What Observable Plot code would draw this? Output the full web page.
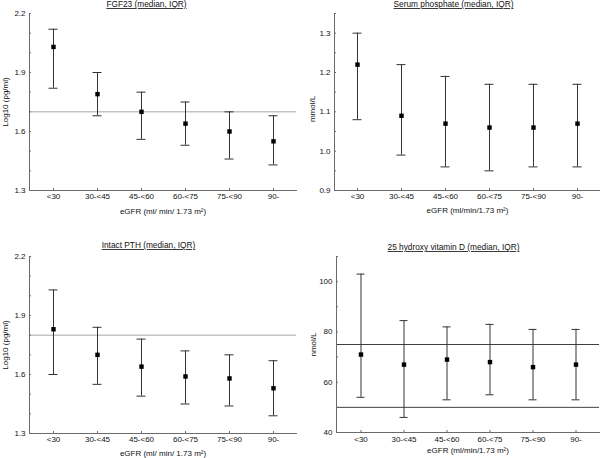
<!DOCTYPE html>
<html>
<head>
<meta charset="utf-8">
<script src="https://cdn.jsdelivr.net/npm/d3@7"></script>
<script src="https://cdn.jsdelivr.net/npm/@observablehq/plot@0.6"></script>
<style>
  html, body { margin: 0; padding: 0; background: #fff; }
  #grid { display: grid; grid-template-columns: 300px 300px; grid-template-rows: 229px 229px; width: 600px; height: 458px; }
  #grid svg { display: block; overflow: visible; }
  text.ul { text-decoration: underline; }
</style>
</head>
<body>
<div id="grid"></div>
<script>
// ---- data ----
const categories = ["<30", "30-<45", "45-<60", "60-<75", "75-<90", "90-"];

const fgf23Median = [2.03, 1.79, 1.70, 1.64, 1.60, 1.55];
const fgf23Q1     = [1.82, 1.68, 1.56, 1.53, 1.46, 1.43];
const fgf23Q3     = [2.12, 1.90, 1.80, 1.75, 1.70, 1.68];
const fgf23Ref    = [1.70];

const phosMedian = [1.22, 1.09, 1.07, 1.06, 1.06, 1.07];
const phosQ1     = [1.08, 0.99, 0.96, 0.95, 0.96, 0.96];
const phosQ3     = [1.30, 1.22, 1.19, 1.17, 1.17, 1.17];

const pthMedian = [1.83, 1.70, 1.64, 1.59, 1.58, 1.53];
const pthQ1     = [1.60, 1.55, 1.49, 1.45, 1.44, 1.39];
const pthQ3     = [2.03, 1.84, 1.78, 1.72, 1.70, 1.67];
const pthRef    = [1.80];

const vitdMedian = [71, 67, 69, 68, 66, 67];
const vitdQ1     = [54, 46, 53, 55, 53, 53];
const vitdQ3     = [103, 84.5, 82, 83, 81, 81];
const vitdRef    = [50, 75];

const logTicks    = [1.3, 1.4, 1.5, 1.6, 1.7, 1.8, 1.9, 2.0, 2.1, 2.2];
const logLabels   = [1.3, 1.6, 1.9, 2.2];
const phosTicks   = [0.9, 0.95, 1.0, 1.05, 1.1, 1.15, 1.2, 1.25, 1.3, 1.35];
const phosLabels  = [0.9, 1.0, 1.1, 1.2, 1.3];
const vitdTicks   = [40, 50, 60, 70, 80, 90, 100, 110];
const vitdLabels  = [40, 60, 80, 100];

// ---- styles ----
const AXIS = "#6a6a6a";
const BAR = "#333";
const TEXT = "#111";
const FONT = "'Liberation Sans', Arial, sans-serif";

function panel(cfg) {
  const rows = categories.map((c, i) => ({cat: c, median: cfg.median[i], q1: cfg.q1[i], q3: cfg.q3[i]}));
  const labelSet = new Set(cfg.labels);
  const svg = Plot.plot({
    width: 300,
    height: 229,
    marginLeft: cfg.m[0], marginRight: cfg.m[1], marginTop: cfg.m[2], marginBottom: cfg.m[3],
    style: {fontFamily: FONT, fontSize: "8px", color: TEXT, background: "white", overflow: "visible"},
    x: {type: "band", domain: categories, padding: 0},
    y: {domain: cfg.yDomain},
    marks: [
      Plot.ruleY(cfg.refs || [], {stroke: cfg.refColor, strokeWidth: 1}),
      Plot.frame({anchor: "left", stroke: AXIS}),
      Plot.frame({anchor: "bottom", stroke: AXIS}),
      Plot.axisY({ticks: cfg.ticks, tickSize: -2, tickPadding: 6, stroke: AXIS, fill: TEXT,
        tickFormat: d => labelSet.has(d) ? cfg.fmt(d) : "", label: null}),
      Plot.axisX({tickSize: -2, tickPadding: cfg.xPad, stroke: AXIS, fill: TEXT, label: null}),
      Plot.ruleX(rows, {x: "cat", y1: "q1", y2: "q3", stroke: BAR, strokeWidth: 1}),
      Plot.tickY(rows, {x: "cat", y: "q1", insetLeft: 17.5, insetRight: 17.5, stroke: BAR, strokeWidth: 1}),
      Plot.tickY(rows, {x: "cat", y: "q3", insetLeft: 17.5, insetRight: 17.5, stroke: BAR, strokeWidth: 1}),
      Plot.dot(rows, {x: "cat", y: "median", symbol: "square", r: 2.5, fill: "#000", stroke: null}),
      Plot.text([cfg.title], {frameAnchor: "top-left", dx: cfg.titleX - cfg.m[0], dy: cfg.titleY - cfg.m[2],
        lineAnchor: "middle", textAnchor: "middle", fill: TEXT, fontSize: 8.3, ariaLabel: "title"}),
      Plot.text([cfg.yLabel], {frameAnchor: "left", dx: cfg.yLabDx, dy: cfg.yLabDy || 0, rotate: -90,
        lineAnchor: "middle", textAnchor: "middle", fill: TEXT, fontSize: 8}),
      Plot.text([cfg.xLabel], {frameAnchor: "bottom", dy: cfg.xLabDy, lineAnchor: "middle",
        textAnchor: "middle", fill: TEXT, fontSize: 8})
    ]
  });
  svg.querySelectorAll("text").forEach(t => {
    if (t.textContent === cfg.title) {
      t.classList.add("ul");
      t.style.textDecoration = "underline";
      t.setAttribute("text-decoration", "underline");
    }
  });
  return svg;
}

const f1 = d => d.toFixed(1);
const f0 = d => d.toFixed(0);
const grid = document.getElementById("grid");

grid.appendChild(panel({
  median: fgf23Median, q1: fgf23Q1, q3: fgf23Q3, refs: fgf23Ref, refColor: "#a8a8a8",
  yDomain: [1.3, 2.2], ticks: logTicks, labels: logLabels, fmt: f1,
  m: [29, 4, 13, 39], xPad: 5,
  title: "FGF23 (median, IQR)", titleX: 146, titleY: 4,
  yLabel: "Log10 (pg/ml)", yLabDx: -24,
  xLabel: "eGFR (ml/ min/ 1.73 m²)", xLabDy: 21
}));

grid.appendChild(panel({
  median: phosMedian, q1: phosQ1, q3: phosQ3, refs: [], refColor: "#a8a8a8",
  yDomain: [0.9, 1.35], ticks: phosTicks, labels: phosLabels, fmt: f1,
  m: [34, 0, 13, 39], xPad: 5,
  title: "Serum phosphate (median, IQR)", titleX: 153, titleY: 4,
  yLabel: "mmol/L", yLabDx: -22, yLabDy: 7,
  xLabel: "eGFR (ml/min/1.73 m²)", xLabDy: 20
}));

grid.appendChild(panel({
  median: pthMedian, q1: pthQ1, q3: pthQ3, refs: pthRef, refColor: "#a8a8a8",
  yDomain: [1.3, 2.2], ticks: logTicks, labels: logLabels, fmt: f1,
  m: [29, 4, 27, 25], xPad: 5,
  title: "Intact PTH (median, IQR)", titleX: 148, titleY: 16,
  yLabel: "Log10 (pg/ml)", yLabDx: -24,
  xLabel: "eGFR (ml/ min/ 1.73 m²)", xLabDy: 20
}));

grid.appendChild(panel({
  median: vitdMedian, q1: vitdQ1, q3: vitdQ3, refs: vitdRef, refColor: "#404040",
  yDomain: [40, 110], ticks: vitdTicks, labels: vitdLabels, fmt: f0,
  m: [36, 1, 27, 26], xPad: 6,
  title: "25 hydroxy vitamin D (median, IQR)", titleX: 153, titleY: 18,
  yLabel: "nmol/L", yLabDx: -23,
  xLabel: "eGFR (ml/min/1.73 m²)", xLabDy: 17.5
}));
</script>
</body>
</html>
